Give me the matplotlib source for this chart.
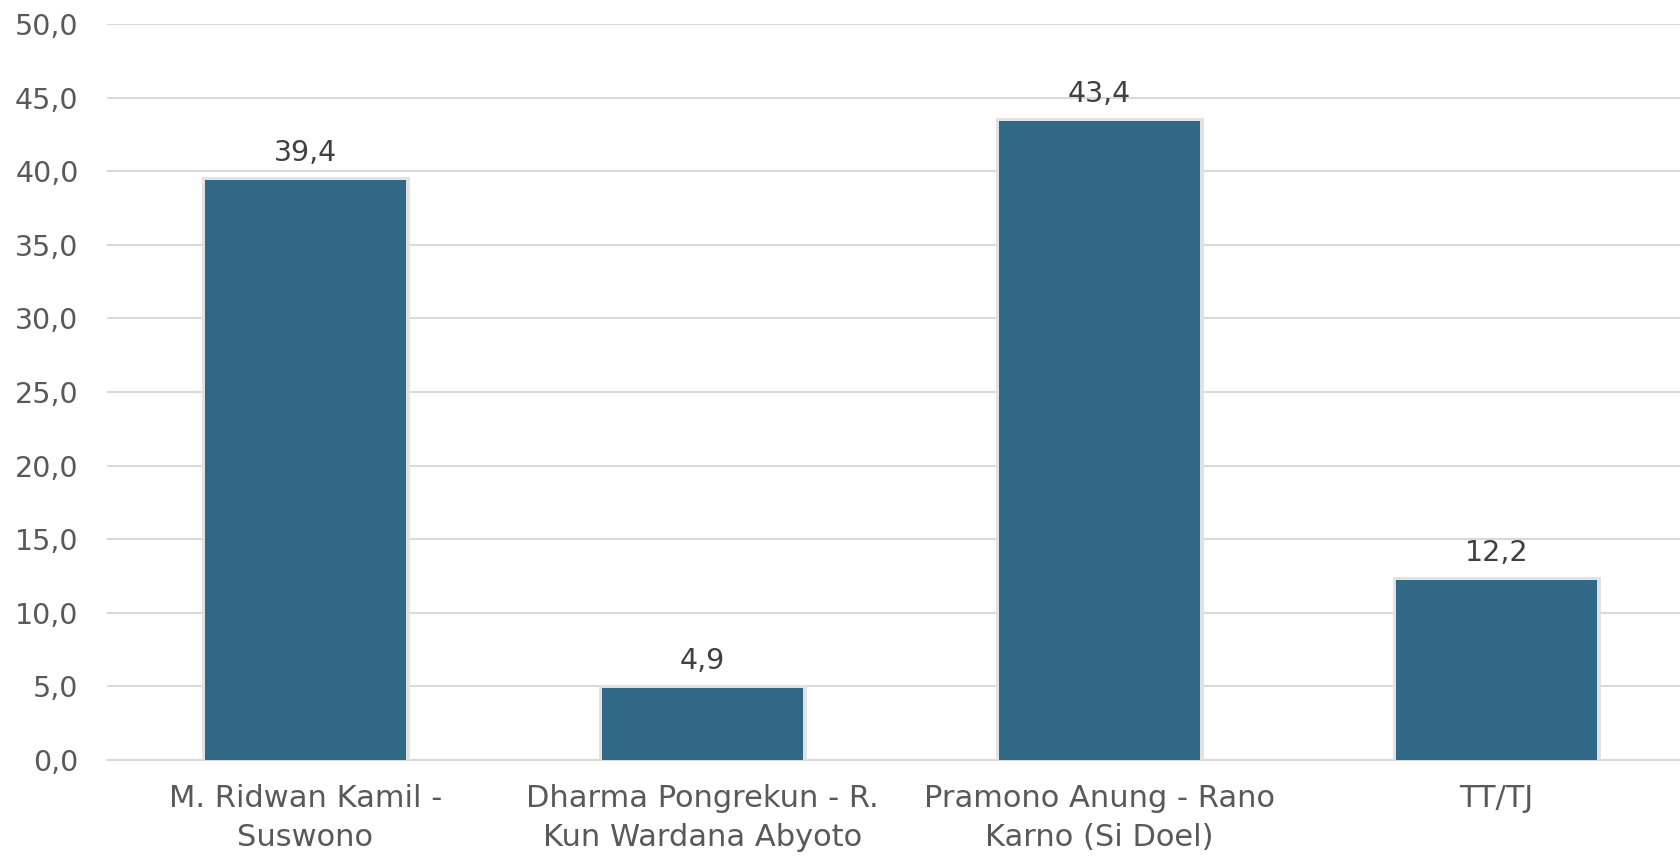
import matplotlib
matplotlib.use('Agg')
import matplotlib.pyplot as plt
import matplotlib.patheffects as pe

# Data
categories = ['M. Ridwan Kamil -\nSuswono', 'Dharma Pongrekun - R.\nKun Wardana Abyoto',
              'Pramono Anung - Rano\nKarno (Si Doel)', 'TT/TJ']
values = [39.4, 4.9, 43.4, 12.2]
yticks = [0, 5, 10, 15, 20, 25, 30, 35, 40, 45, 50]

plt.rcParams['font.family'] = ['DejaVu Sans']

fig = plt.figure(figsize=(16.81, 8.59), dpi=100)
ax = fig.add_axes([107 / 1681, 99 / 859, 1588 / 1681, 736 / 859])

x = range(len(categories))
bars = ax.bar(x, values, width=0.504, color='#316886', zorder=3)
for b in bars:
    b.set_path_effects([pe.withStroke(linewidth=5, foreground='#e2e2e2'), pe.Normal()])

for xi, v in zip(x, values):
    ax.text(xi, v + 0.9, f'{v:.1f}'.replace('.', ','), ha='center', va='bottom',
            fontsize=20.5, color='#404040')

ax.set_xlim(-0.5, 3.5)
ax.set_ylim(0, 50)
ax.set_yticks(yticks)
ax.set_yticklabels([f'{t:.1f}'.replace('.', ',') for t in yticks], fontsize=20.5, color='#595959')
ax.set_xticks(list(x))
ax.set_xticklabels(categories, fontsize=22, color='#595959', linespacing=1.45)
ax.tick_params(axis='both', length=0)
ax.tick_params(axis='y', pad=20.5)
ax.tick_params(axis='x', pad=17)
ax.grid(axis='y', color='#d9d9d9', linewidth=1.5, zorder=0)
for s in ['top', 'right', 'left']:
    ax.spines[s].set_visible(False)
ax.spines['bottom'].set_color('#d9d9d9')
ax.spines['bottom'].set_linewidth(1.5)

plt.savefig('out.png', dpi=100)
